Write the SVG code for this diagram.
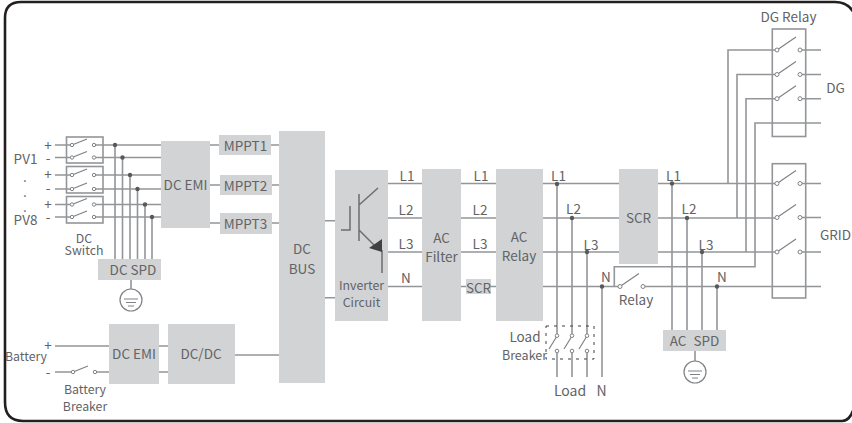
<svg xmlns="http://www.w3.org/2000/svg" width="852" height="423" viewBox="0 0 852 423">
<style>
text{font-family:"Noto Sans CJK SC","Noto Sans",sans-serif;font-size:13.500px;fill:#626366;text-anchor:middle;dominant-baseline:central}
text.t{font-size:12.300px}
.b{fill:#d1d3d4;stroke:none}
.w{fill:none;stroke:#939598;stroke-width:1.6}
.d{fill:#58595b;stroke:none}
.o{fill:#fff;stroke:#808285;stroke-width:1}
.s{fill:none;stroke:#808285;stroke-width:1.2}
.frame{fill:none;stroke:#939598;stroke-width:1.6}
</style>
<defs>
<g id="sw"><path class="s" d="M0 0L19 -13"/><circle class="o" cx="0" cy="0" r="2"/><circle class="o" cx="23" cy="0" r="2"/></g>
<g id="sws"><path class="s" d="M0 0L15 -6"/><circle class="o" cx="0" cy="0" r="1.7"/><circle class="o" cx="22" cy="0" r="1.7"/></g>
<g id="gnd"><circle cx="0" cy="0" r="11" fill="none" stroke="#808285" stroke-width="1.2"/><path fill="none" stroke="#808285" stroke-width="1.2" d="M-7 -1H7M-5 2.500H5M-3 6H3"/></g>
</defs>
<path d="M21 2H835Q848 2 854 13V408Q850 421 842 421H23Q5 421 5 402V18Q5 2 21 2Z" fill="#fff" stroke="#231f20" stroke-width="2.600"/>
<g id="connectors">
<path class="w" d="M55 145H71M96 145H161M55 157.500H71M96 157.500H161M55 175H71M96 175H161M55 189H71M96 189H161M55 204.500H71M96 204.500H161M55 217H71M96 217H161"/>
<path class="w" d="M115 145V259M122.500 157.500V259M130 175V259M137.500 189V259M145 204.500V259M152 217V259M131 280V289"/>
<path class="w" d="M210 145H219M210 185H220M210 223H220M271 145H279M272 185H279M272 223H279"/>
<path class="w" d="M55 346H109M55 372H71M97 372H109M159 346H168M159 372H168M235 355H279"/>
<path class="w" d="M325 220.700H335M325 297.700H335M388 183.500H422M388 218H422M388 252H422M388 286.500H422M461 183.500H496M461 218H496M461 252H496M461 286.500H466M491 286.500H496"/>
<path class="w" d="M543 183.500H619M543 218H619M543 252H619M543 286.500H618M645 286.500H821"/>
<path class="w" d="M658 183.500H775M658 218H775M658 252H775M802 183.500H821M802 217.500H821M802 252H821"/>
<path class="w" d="M557 184V334M572 218V334M587 252V334M557 353V377M572 353V377M587 353V377M602 286.500V377"/>
<path class="w" d="M672 183.500V330M687 218V330M702 252V330M717 286.500V330M695 351V361"/>
<path class="w" d="M775 50H728V183.500M775 74.500H737V218M775 98.700H746V252M821 123H755V266.700H614.300V286.500"/>
<path class="w" d="M802 50H821M802 74.500H821M802 98.700H821"/>
<g class="d"><circle cx="115" cy="145" r="2.200"/><circle cx="122.500" cy="157.500" r="2.200"/><circle cx="130" cy="175" r="2.200"/><circle cx="137.500" cy="189" r="2.200"/><circle cx="145" cy="204.500" r="2.200"/><circle cx="152" cy="217" r="2.200"/><circle cx="557" cy="184" r="2.200"/><circle cx="572" cy="218" r="2.200"/><circle cx="587" cy="252" r="2.200"/><circle cx="602" cy="286.500" r="2.200"/><circle cx="672" cy="183.500" r="2.200"/><circle cx="687" cy="218" r="2.200"/><circle cx="702" cy="252" r="2.200"/><circle cx="717" cy="286.500" r="2.200"/></g>
</g>
<g id="dc-switch">
<rect class="frame" x="66.500" y="137" width="36.500" height="26"/><rect class="frame" x="66.500" y="166.500" width="36.500" height="26.500"/><rect class="frame" x="66.500" y="196.500" width="36.500" height="26.500"/>
<use href="#sws" x="72" y="145"/><use href="#sws" x="72" y="157.500"/><use href="#sws" x="72" y="175"/><use href="#sws" x="72" y="189"/><use href="#sws" x="72" y="204.500"/><use href="#sws" x="72" y="217"/>
<text class="t" x="84" y="238">DC</text><text class="t" x="84" y="250">Switch</text>
</g>
<g id="pv-labels">
<text x="25.500" y="158">PV1</text><text x="25.500" y="219">PV8</text><text x="25" y="176">.</text><text x="25" y="191">.</text><text x="25" y="206">.</text>
<text x="48" y="144">+</text><text x="48" y="157">-</text><text x="48" y="173">+</text><text x="48" y="187">-</text><text x="48" y="203">+</text><text x="48" y="216">-</text>
</g>
<g id="dc-emi-1"><rect class="b" x="161" y="141" width="49" height="87"/><text x="185.500" y="184">DC EMI</text></g>
<g id="mppt1"><rect class="b" x="219" y="135" width="52" height="20"/><text x="245.500" y="145">MPPT1</text></g>
<g id="mppt2"><rect class="b" x="220" y="175" width="52" height="20"/><text x="245.500" y="185">MPPT2</text></g>
<g id="mppt3"><rect class="b" x="220" y="213" width="52" height="21"/><text x="245.500" y="223">MPPT3</text></g>
<g id="dc-spd"><rect class="b" x="98" y="259" width="63" height="21"/><text x="133" y="269">DC SPD</text></g>
<g id="ground-1"><use href="#gnd" x="131" y="300"/></g>
<g id="dc-bus"><rect class="b" x="279" y="131" width="46" height="252"/><text x="302" y="248">DC</text><text x="302" y="268">BUS</text></g>
<g id="battery"><text class="t" x="26" y="356">Battery</text><text x="48" y="344">+</text><text x="48" y="371">-</text><use href="#sws" x="73" y="372"/><text class="t" x="85" y="389">Battery</text><text class="t" x="85" y="406">Breaker</text></g>
<g id="dc-emi-2"><rect class="b" x="109" y="324" width="50" height="60"/><text x="134" y="353">DC EMI</text></g>
<g id="dc-dc"><rect class="b" x="168" y="324" width="67" height="60"/><text x="201" y="353">DC/DC</text></g>
<g id="inverter"><rect class="b" x="335" y="170" width="53" height="151"/>
<path fill="none" stroke="#6d6e71" stroke-width="1.500" d="M359 194V241M359 205L378 188M359 230L376 247M350 206V230H341M382 250V273"/>
<path fill="#414042" d="M369 248L382 239V252Z"/>
<text class="t" x="361.500" y="285">Inverter</text><text class="t" x="361.500" y="302">Circuit</text></g>
<g id="ac-filter"><rect class="b" x="422" y="169" width="39" height="152"/><text x="441.500" y="237">AC</text><text x="441.500" y="256">Filter</text></g>
<g id="ac-relay"><rect class="b" x="496" y="169" width="47" height="152"/><text x="519" y="236">AC</text><text x="519" y="255">Relay</text></g>
<g id="scr-n"><rect class="b" x="466" y="279" width="25" height="15"/><text x="478.500" y="286.500">SCR</text></g>
<g id="scr"><rect class="b" x="619" y="169" width="39" height="95"/><text x="638.500" y="217">SCR</text></g>
<g id="line-labels">
<text x="407" y="175">L1</text><text x="406" y="209">L2</text><text x="406" y="243">L3</text><text x="406" y="277">N</text>
<text x="481" y="175">L1</text><text x="480" y="209">L2</text><text x="480" y="243">L3</text>
<text x="558.500" y="175">L1</text><text x="573.500" y="208">L2</text><text x="591" y="244">L3</text><text x="606" y="276">N</text>
<text x="673.500" y="175">L1</text><text x="689" y="208">L2</text><text x="706" y="244">L3</text><text x="722" y="276">N</text>
</g>
<g id="load-breaker">
<rect x="546" y="326" width="48" height="33" fill="none" stroke="#414042" stroke-width="1" stroke-dasharray="3 5"/>
<g class="s"><path d="M557 336L549 349M572 336L564 349M587 336L579 349"/></g>
<circle class="o" cx="557" cy="335.700" r="1.800"/><circle class="o" cx="572" cy="335.700" r="1.800"/><circle class="o" cx="587" cy="335.700" r="1.800"/>
<circle class="o" cx="557" cy="351" r="1.800"/><circle class="o" cx="572" cy="351" r="1.800"/><circle class="o" cx="587" cy="351" r="1.800"/>
<text x="525" y="336">Load</text><text x="524.500" y="354" style="font-size:12.500px">Breaker</text>
<text x="570" y="390" style="font-size:14px">Load</text><text x="601.500" y="390" style="font-size:14px">N</text>
</g>
<g id="relay"><use href="#sw" x="620" y="286.500"/><text x="636" y="299">Relay</text></g>
<g id="ac-spd"><rect class="b" x="663" y="330" width="63" height="21"/><text x="694.500" y="340" word-spacing="4">AC SPD</text></g>
<g id="ground-2"><use href="#gnd" x="695" y="372"/></g>
<g id="dg-relay"><rect class="frame" x="772.300" y="29" width="33.400" height="107.500"/>
<use href="#sw" x="777" y="50"/><use href="#sw" x="777" y="74.500"/><use href="#sw" x="777" y="98.700"/>
<text x="788.500" y="16">DG Relay</text><text x="835.500" y="87">DG</text></g>
<g id="grid"><rect class="frame" x="772.300" y="163.700" width="33.400" height="134.300"/>
<use href="#sw" x="777" y="183.500"/><use href="#sw" x="777" y="217.500"/><use href="#sw" x="777" y="252"/>
<text x="835.500" y="234">GRID</text></g>
</svg>
